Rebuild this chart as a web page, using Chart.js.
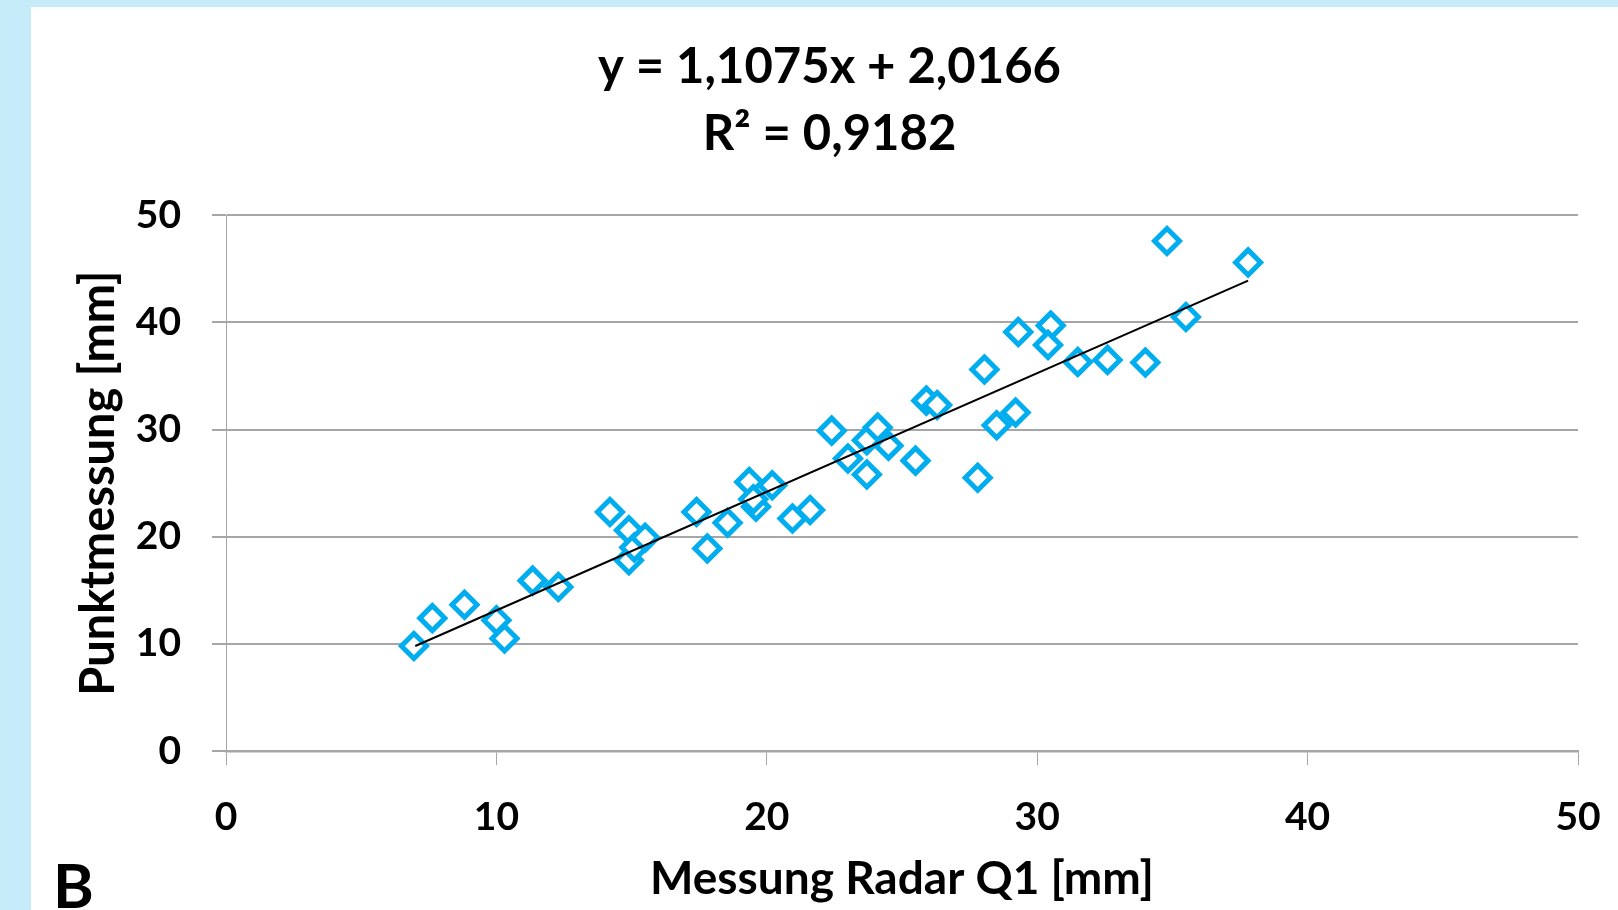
<!DOCTYPE html>
<html>
<head>
<meta charset="utf-8">
<script src="https://cdn.jsdelivr.net/npm/chart.js@4"></script>
<style>
  html, body { margin: 0; padding: 0; }
  body { width: 1618px; height: 910px; background: #c6ebf9; overflow: hidden; position: relative; font-family: Lato, "Open Sans", sans-serif; }
  #panel { position: absolute; left: 31px; top: 7px; width: 1587px; height: 903px; background: #fff; }
  #tag { position: absolute; left: 22px; top: 846px; font-size: 62px; font-weight: bold; line-height: 1; color: #000; }
</style>
</head>
<body>
<div id="panel">
  <canvas id="chart"></canvas>
  <div id="tag">B</div>
</div>
<script>
const radarQ1 = [6.95, 7.63, 8.82, 10.0, 10.3, 11.34, 12.29, 14.2, 14.9, 14.9, 15.1, 15.5,
  17.4, 17.8, 18.55, 19.35, 19.6, 19.5, 20.2, 20.95, 21.6, 22.4, 23.0, 23.7, 24.1, 24.5,
  23.7, 25.5, 25.9, 26.3, 27.8, 28.5, 29.2, 28.05, 29.3, 30.5, 30.4, 31.5, 32.6, 34.0,
  34.8, 35.5, 37.8];
const punkt = [9.8, 12.4, 13.65, 12.2, 10.5, 15.9, 15.3, 22.3, 20.6, 17.8, 19.0, 19.9,
  22.3, 18.9, 21.3, 25.1, 22.8, 23.5, 24.8, 21.7, 22.5, 29.9, 27.3, 29.0, 30.2, 28.5,
  25.8, 27.1, 32.7, 32.3, 25.5, 30.4, 31.6, 35.6, 39.1, 39.7, 37.9, 36.3, 36.5, 36.25,
  47.6, 40.5, 45.6];

// Trendlinie (Endpunkte)
const trendX = [7.0, 37.8];
const trendY = [9.8, 43.9];

const ticks = [0, 10, 20, 30, 40, 50];
const titleLines = ['y = 1,1075x + 2,0166', 'R² = 0,9182'];

const font = 'Lato';
const gridColor = '#a6a6a6';

new Chart(document.getElementById('chart'), {
  type: 'scatter',
  data: {
    datasets: [{
      label: 'Messung',
      data: radarQ1.map((x, i) => ({ x, y: punkt[i] })),
      pointStyle: 'rectRot',
      pointRadius: 12.5,
      pointBorderWidth: 5,
      borderColor: '#00aeef',
      backgroundColor: '#ffffff',
      order: 2
    }, {
      label: 'Trend',
      type: 'line',
      data: trendX.map((x, i) => ({ x, y: trendY[i] })),
      borderColor: '#000',
      borderWidth: 2,
      pointRadius: 0,
      fill: false,
      order: 1
    }]
  },
  options: {
    responsive: true,
    maintainAspectRatio: false,
    animation: false,
    layout: { padding: { left: 50, right: 40, top: 0, bottom: 0 } },
    plugins: {
      legend: { display: false },
      tooltip: { enabled: false },
      title: {
        display: true,
        text: titleLines,
        color: '#000',
        font: { family: font, size: 49, weight: 'bold', lineHeight: 1.37 },
        padding: { top: 27, bottom: 47 }
      }
    },
    scales: {
      x: {
        type: 'linear',
        min: 0, max: 50,
        afterBuildTicks: s => { s.ticks = ticks.map(v => ({ value: v })); },
        afterFit: s => { s.height = 159; s.paddingRight = 0; },
        border: { color: gridColor, width: 2.5 },
        grid: { drawOnChartArea: false, drawTicks: true, tickLength: 14, tickColor: gridColor, tickWidth: 1 },
        ticks: { color: '#000', padding: 29, font: { family: font, size: 39, weight: 'bold' } },
        title: {
          display: true,
          text: 'Messung Radar Q1 [mm]',
          color: '#000',
          font: { family: font, size: 46, weight: 'bold', lineHeight: 1.0 },
          padding: { bottom: 8 }
        }
      },
      y: {
        type: 'linear',
        min: 0, max: 50,
        afterBuildTicks: s => { s.ticks = ticks.map(v => ({ value: v })); },
        afterFit: s => { s.width = 145; },
        border: { color: gridColor, width: 1 },
        grid: { color: gridColor, lineWidth: 2, tickLength: 14, tickColor: gridColor, tickWidth: 2 },
        ticks: { color: '#000', padding: 31, font: { family: font, size: 39, weight: 'bold' } },
        title: {
          display: true,
          text: 'Punktmessung [mm]',
          color: '#000',
          font: { family: font, size: 47, weight: 'bold', lineHeight: 0.76 },
          padding: { top: 0 }
        }
      }
    }
  }
});
</script>
</body>
</html>
